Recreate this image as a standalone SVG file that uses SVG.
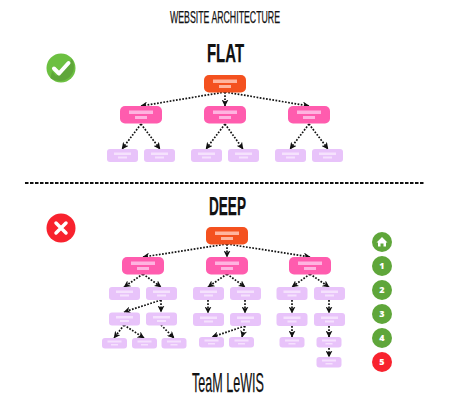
<svg xmlns="http://www.w3.org/2000/svg" width="450" height="400" viewBox="0 0 450 400">
<style>
.t{font-family:"Liberation Sans Narrow","Liberation Sans",sans-serif;fill:#111;text-anchor:start;stroke:#111;stroke-width:.25}
.root{fill:#f4511f}.pink{fill:#ff5cae}.lite{fill:#e8c3fa}
.rb{fill:#ffb49e}.pb{fill:#ffb3e0}.lb{fill:#f5e2fd}
.c{fill:none;stroke:#111;stroke-width:1.7;stroke-dasharray:1.7 1.5;marker-end:url(#a)}
.g{fill:#5fa63a}.r{fill:#f8222e}
.n{font-family:"Open Sans","Liberation Sans",sans-serif;font-weight:800;font-size:9px;fill:#fff;text-anchor:middle}
</style>
<defs>
<marker id="a" viewBox="0 0 7 7" refX="6.500" refY="3.500" markerWidth="7" markerHeight="7" markerUnits="userSpaceOnUse" orient="auto"><path d="M0 0L7 3.500L0 7L2 3.500Z" fill="#111"/></marker>
<g id="nr"><rect x="-21" y="0" width="42" height="17.500" rx="5" class="root"/><rect x="-12" y="4.500" width="24" height="3.500" class="rb"/><rect x="-6" y="10" width="12" height="3" class="rb"/></g>
<g id="np"><rect x="-21" y="0" width="42" height="17.500" rx="5" class="pink"/><rect x="-12" y="4.500" width="24" height="3.500" class="pb"/><rect x="-6" y="10" width="12" height="3" class="pb"/></g>
<g id="nl"><rect x="-15.500" y="0" width="31" height="13" rx="3" class="lite"/><rect x="-8.500" y="3.500" width="17" height="2.500" class="lb"/><rect x="-4.500" y="7.500" width="9" height="2" class="lb"/></g>
<g id="ns"><rect x="-12.500" y="0" width="25" height="10.500" rx="3" class="lite"/><rect x="-7" y="2.500" width="14" height="2" class="lb"/><rect x="-3.500" y="6" width="7" height="1.500" class="lb"/></g>
</defs>
<rect width="450" height="400" fill="#fff"/>
<text class="t" x="170" y="23" font-size="17" textLength="110" lengthAdjust="spacingAndGlyphs">WEBSITE ARCHITECTURE</text>
<text class="t" x="207" y="62" font-size="25" font-weight="700" textLength="37" lengthAdjust="spacingAndGlyphs">FLAT</text>
<text class="t" x="209" y="215" font-size="25" font-weight="700" textLength="37" lengthAdjust="spacingAndGlyphs">DEEP</text>
<text class="t" x="192" y="392" font-size="28" textLength="72" lengthAdjust="spacingAndGlyphs">TeaM LeWIS</text>
<line x1="25" y1="183" x2="425" y2="183" stroke="#111" stroke-width="1.800" stroke-dasharray="3.500 1.500"/>
<g id="connectors">
<path class="c" d="M225 92L141 106"/><path class="c" d="M225 92L225 106"/><path class="c" d="M225 92L309 106"/>
<path class="c" d="M141 124L122 149"/><path class="c" d="M141 124L160 149"/>
<path class="c" d="M225 124L206 149"/><path class="c" d="M225 124L243 149"/>
<path class="c" d="M309 124L290 149"/><path class="c" d="M309 124L328 149"/>
<path class="c" d="M227 244L143 257"/><path class="c" d="M227 244L227 257"/><path class="c" d="M227 244L310 257"/>
<path class="c" d="M143 274L124 287"/><path class="c" d="M143 274L161 287"/>
<path class="c" d="M227 274L208 287"/><path class="c" d="M227 274L245 287"/>
<path class="c" d="M310 274L292 287"/><path class="c" d="M310 274L329 287"/>
<path class="c" d="M161 300L124 312"/><path class="c" d="M161 300L161 312"/>
<path class="c" d="M208 300L208 313"/><path class="c" d="M245 300L245 313"/>
<path class="c" d="M292 300L292 313"/><path class="c" d="M329 300L329 313"/>
<path class="c" d="M124 325L114 338"/><path class="c" d="M124 325L144 338"/><path class="c" d="M161 325L174 338"/>
<path class="c" d="M245 326L212 337"/><path class="c" d="M245 326L242 337"/>
<path class="c" d="M292 326L292 337"/><path class="c" d="M329 326L329 337"/><path class="c" d="M329 348L329 357"/>
</g>
<g id="flat-root"><use href="#nr" x="225" y="75"/></g>
<g id="flat-p1"><use href="#np" x="141" y="106"/></g>
<g id="flat-p2"><use href="#np" x="225" y="106"/></g>
<g id="flat-p3"><use href="#np" x="309" y="106"/></g>
<g id="flat-l1"><use href="#nl" x="122.500" y="149"/></g>
<g id="flat-l2"><use href="#nl" x="159.500" y="149"/></g>
<g id="flat-l3"><use href="#nl" x="206.500" y="149"/></g>
<g id="flat-l4"><use href="#nl" x="243.500" y="149"/></g>
<g id="flat-l5"><use href="#nl" x="290.500" y="149"/></g>
<g id="flat-l6"><use href="#nl" x="327.500" y="149"/></g>
<g id="deep-root"><use href="#nr" x="227" y="227"/></g>
<g id="deep-p1"><use href="#np" x="143" y="257"/></g>
<g id="deep-p2"><use href="#np" x="227" y="257"/></g>
<g id="deep-p3"><use href="#np" x="310" y="257"/></g>
<g id="deep-a1"><use href="#nl" x="124.500" y="287"/></g>
<g id="deep-a2"><use href="#nl" x="161.500" y="287"/></g>
<g id="deep-a3"><use href="#nl" x="208.500" y="287"/></g>
<g id="deep-a4"><use href="#nl" x="245.500" y="287"/></g>
<g id="deep-a5"><use href="#nl" x="292" y="287"/></g>
<g id="deep-a6"><use href="#nl" x="329.500" y="287"/></g>
<g id="deep-b1"><use href="#nl" x="124.500" y="312.500"/></g>
<g id="deep-b2"><use href="#nl" x="161.500" y="312.500"/></g>
<g id="deep-b3"><use href="#nl" x="208.500" y="313"/></g>
<g id="deep-b4"><use href="#nl" x="245.500" y="313"/></g>
<g id="deep-b5"><use href="#nl" x="292" y="313"/></g>
<g id="deep-b6"><use href="#nl" x="329.500" y="313"/></g>
<g id="deep-c1"><use href="#ns" x="114.500" y="338"/></g>
<g id="deep-c2"><use href="#ns" x="144.500" y="338"/></g>
<g id="deep-c3"><use href="#ns" x="174" y="338"/></g>
<g id="deep-c4"><use href="#ns" x="211.500" y="337"/></g>
<g id="deep-c5"><use href="#ns" x="241.500" y="337"/></g>
<g id="deep-c6"><use href="#ns" x="292" y="337"/></g>
<g id="deep-c7"><use href="#ns" x="329" y="337"/></g>
<g id="deep-d1"><use href="#ns" x="329" y="357"/></g>
<g id="check"><circle cx="61" cy="68" r="14.500" fill="#6cc041"/><path d="M71.500 58.500A14.500 14.500 0 0 1 50.500 78L52 71L56 76L71 61Z" fill="#5fa63a"/><path d="M54 68.500L59 73.500L68.500 63" fill="none" stroke="#fff" stroke-width="4" stroke-linecap="round" stroke-linejoin="round"/></g>
<g id="cross"><circle cx="61" cy="228" r="14.500" class="r"/><path d="M56 223L66 233M66 223L56 233" stroke="#fff" stroke-width="3.500" stroke-linecap="round"/></g>
<g id="level-home"><circle cx="382" cy="242" r="10" class="g"/><path d="M382 237L387.500 242.500H386V246.500H383.500V243.500H380.500V246.500H378V242.500H376.500Z" fill="#fff"/></g>
<g id="level-1"><circle cx="382" cy="266" r="10" class="g"/><text class="n" x="382" y="269.200">1</text></g>
<g id="level-2"><circle cx="382" cy="290" r="10" class="g"/><text class="n" x="382" y="293.200">2</text></g>
<g id="level-3"><circle cx="382" cy="314" r="10" class="g"/><text class="n" x="382" y="317.200">3</text></g>
<g id="level-4"><circle cx="382" cy="338" r="10" class="g"/><text class="n" x="382" y="341.200">4</text></g>
<g id="level-5"><circle cx="382" cy="362" r="10" class="r"/><text class="n" x="382" y="365.200">5</text></g>
</svg>
